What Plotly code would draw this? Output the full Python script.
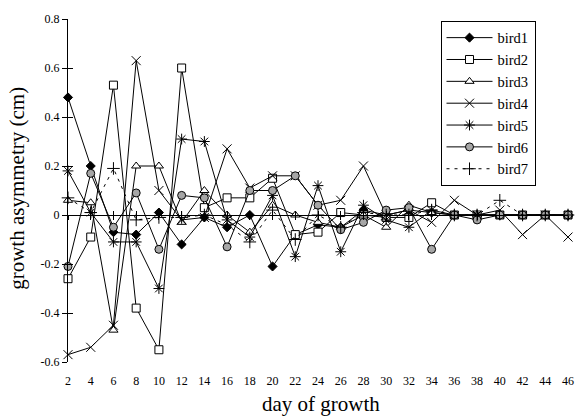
import plotly.graph_objects as go

# ---- data ----
days = [2, 4, 6, 8, 10, 12, 14, 16, 18, 20, 22, 24, 26, 28, 30, 32, 34, 36, 38, 40, 42, 44, 46]

bird1 = [0.48, 0.20, -0.07, -0.08, 0.01, -0.12, -0.01, -0.05, 0.00, -0.21, -0.08, -0.04,
         -0.05, 0.02, 0.00, 0.02, 0.01, 0.00, 0.00, 0.00, 0.00, 0.00, 0.00]
bird2 = [-0.26, -0.09, 0.53, -0.38, -0.55, 0.60, 0.03, 0.07, 0.07, 0.15, -0.08, -0.07,
         0.01, 0.00, -0.01, -0.01, 0.05, 0.00, 0.00, 0.00, 0.00, 0.00, 0.00]
bird3 = [0.06, 0.05, -0.47, 0.20, 0.20, -0.03, 0.10, 0.00, -0.07, 0.04, 0.00, -0.03,
         -0.05, 0.00, -0.05, 0.04, 0.01, 0.00, 0.00, 0.00, 0.00, 0.00, 0.00]
bird4 = [-0.57, -0.54, -0.45, 0.63, 0.10, -0.02, -0.01, 0.27, 0.11, 0.16, 0.16, 0.04,
         0.06, 0.20, 0.00, 0.02, -0.03, 0.06, 0.00, 0.02, -0.08, 0.00, -0.09]
bird5 = [0.18, 0.01, -0.11, -0.11, -0.30, 0.31, 0.30, -0.02, -0.09, 0.08, -0.17, 0.12,
         -0.15, 0.04, -0.02, -0.05, 0.02, 0.00, 0.00, 0.00, 0.00, 0.00, 0.00]
bird6 = [-0.21, 0.17, -0.05, 0.09, -0.14, 0.08, 0.07, -0.13, 0.10, 0.10, 0.16, 0.04,
         -0.06, -0.03, 0.02, 0.03, -0.14, 0.00, -0.02, 0.00, 0.00, 0.00, 0.00]
bird7 = [0.07, 0.01, 0.19, -0.02, -0.01, -0.01, 0.00, -0.04, -0.11, 0.02, -0.10, 0.00,
         -0.05, 0.01, 0.00, 0.00, 0.02, 0.00, 0.00, 0.06, 0.00, 0.00, 0.00]

series_names = ["bird1", "bird2", "bird3", "bird4", "bird5", "bird6", "bird7"]
series_values = [bird1, bird2, bird3, bird4, bird5, bird6, bird7]

y_tick_values = [0.8, 0.6, 0.4, 0.2, 0.0, -0.2, -0.4, -0.6]
y_tick_labels = ["0.8", "0.6", "0.4", "0.2", "0", "-0.2", "-0.4", "-0.6"]
x_tick_labels = [str(d) for d in days]

x_title = "day of growth"
y_title = "growth asymmetry (cm)"

# ---- styles ----
FONT = "Liberation Serif"
styles = [
    dict(symbol="diamond", size=7, color="black", line=dict(color="black", width=1)),
    dict(symbol="square", size=8, color="white", line=dict(color="black", width=1)),
    dict(symbol="triangle-up", size=8, color="white", line=dict(color="black", width=1)),
    dict(symbol="x-thin-open", size=9, color="black", line=dict(color="black", width=1)),
    dict(symbol="asterisk-open", size=9, color="black", line=dict(color="black", width=1)),
    dict(symbol="circle", size=8, color="#a6a6a6", line=dict(color="black", width=1)),
    dict(symbol="cross-thin-open", size=9, color="black", line=dict(color="black", width=1)),
]
dashes = ["solid"] * 6 + ["3px,5px"]

fig = go.Figure()
for name, vals, st, dash in zip(series_names, series_values, styles, dashes):
    fig.add_trace(go.Scatter(
        x=days, y=vals, name=name, mode="lines+markers",
        line=dict(color="black", width=1, dash=dash),
        marker=st, cliponaxis=False,
    ))

# helper traces so the zero-line axes (cross ticks) are drawn
for ax in ["x2", "x3"]:
    fig.add_trace(go.Scatter(x=[days[0]], y=[0], xaxis=ax, mode="markers",
                             marker=dict(opacity=0), showlegend=False, hoverinfo="skip"))
fig.add_trace(go.Scatter(x=[days[0]], y=[0], yaxis="y2", mode="markers",
                         marker=dict(opacity=0), showlegend=False, hoverinfo="skip"))

y_min, y_max = min(y_tick_values), max(y_tick_values)
zero_pos = (0 - y_min) / (y_max - y_min)

tickfont = dict(family=FONT, size=12, color="black")
fig.update_layout(
    width=581, height=419,
    margin=dict(l=68, r=7, t=19, b=57),
    paper_bgcolor="white", plot_bgcolor="white",
    font=dict(family=FONT, color="black"),
    showlegend=True,
    xaxis=dict(range=[days[0], days[-1]], tickvals=days, ticktext=x_tick_labels,
               showgrid=False, zeroline=False, showline=False,
               ticks="outside", ticklen=8, tickcolor="rgba(0,0,0,0)", tickfont=tickfont),
    xaxis2=dict(range=[days[0], days[-1]], tickvals=days, overlaying="x", anchor="free",
                position=zero_pos, showticklabels=False, showgrid=False, zeroline=False,
                showline=True, linecolor="black", linewidth=1,
                ticks="outside", ticklen=4, tickcolor="black", tickwidth=1),
    xaxis3=dict(range=[days[0], days[-1]], tickvals=days, overlaying="x", anchor="free",
                position=zero_pos, showticklabels=False, showgrid=False, zeroline=False,
                showline=False, ticks="inside", ticklen=4, tickcolor="black", tickwidth=1),
    yaxis=dict(range=[y_min, y_max], tickvals=y_tick_values, ticktext=y_tick_labels,
               showgrid=False, zeroline=False, showline=True, linecolor="black", linewidth=1,
               ticks="outside", ticklen=5, tickcolor="black", tickwidth=1, tickfont=tickfont),
    yaxis2=dict(range=[y_min, y_max], tickvals=y_tick_values, overlaying="y", anchor="x",
                showticklabels=False, showgrid=False, zeroline=False, showline=False,
                ticks="inside", ticklen=5, tickcolor="black", tickwidth=1),
    legend=dict(x=0.745, y=0.995, xanchor="left", yanchor="top",
                bgcolor="white", bordercolor="black", borderwidth=1,
                font=dict(family=FONT, size=14.5, color="black"),
                itemwidth=46),
    annotations=[
        dict(text=x_title, xref="paper", yref="paper", x=0.506, y=-0.122,
             xanchor="center", yanchor="middle", showarrow=False,
             font=dict(family=FONT, size=21, color="black")),
        dict(text=y_title, xref="paper", yref="paper", x=-0.102, y=0.505,
             xanchor="center", yanchor="middle", showarrow=False, textangle=-90,
             font=dict(family=FONT, size=21, color="black")),
    ],
)

fig.write_html("out.html", config={"displayModeBar": False},
               post_script="document.body.style.margin='0';")
